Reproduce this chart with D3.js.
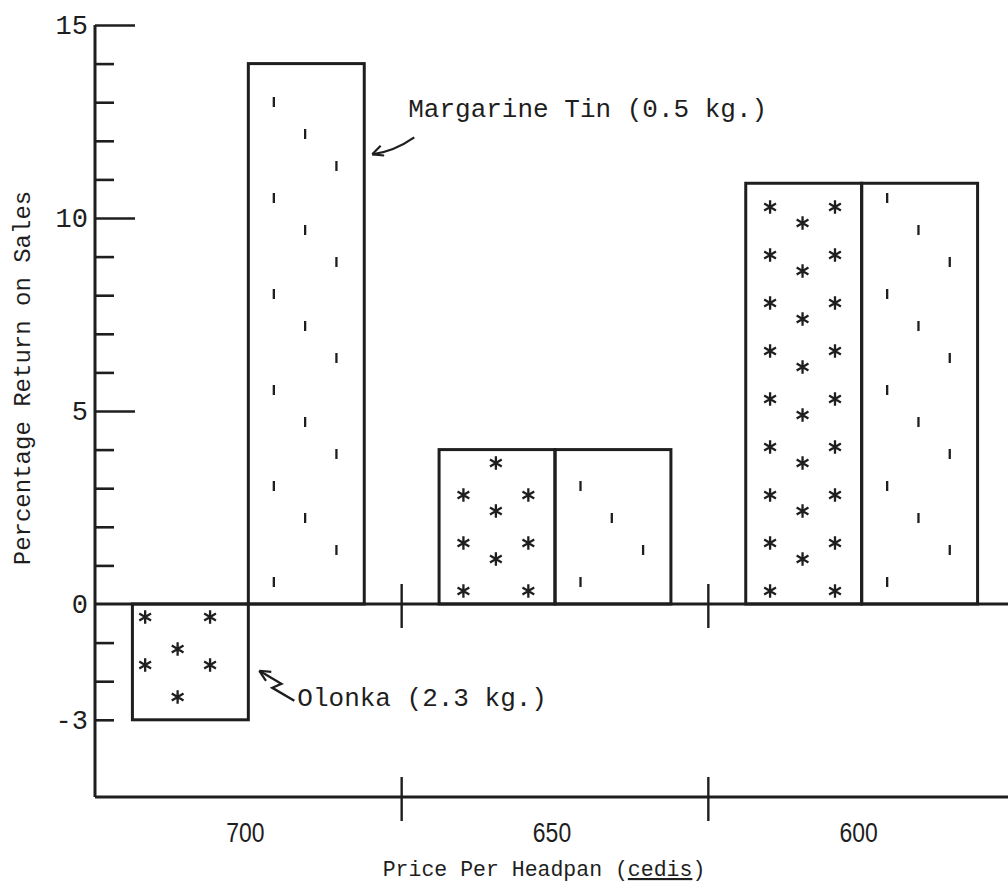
<!DOCTYPE html>
<html>
<head>
<meta charset="utf-8">
<script src="https://cdn.jsdelivr.net/npm/d3@7"></script>
<style>
  html, body { margin: 0; padding: 0; background: #fff; }
  svg { display: block; }
  .mono { font-family: "Liberation Mono", "DejaVu Sans Mono", monospace; fill: #1e1e1e; }
  .sans { font-family: "Liberation Sans", "DejaVu Sans", sans-serif; fill: #1e1e1e; }
</style>
</head>
<body>
<svg id="chart" width="1008" height="896"></svg>
<script>
// Price per headpan (cedis) and percentage return on sales for two measures
const categories = ["700", "650", "600"];
const seriesNames = ["Olonka (2.3 kg.)", "Margarine Tin (0.5 kg.)"];
const olonkaValues = [-3, 4, 10.9];
const margarineValues = [14, 4, 10.9];
const yTickLabels = [15, 10, 5, 0, -3];
const yMajorTicks = [15, 10, 5];
const yMinorTicks = [14, 13, 12, 11, 9, 8, 7, 6, 4, 3, 2, 1, -1, -2, -3];
const xTitle = "Price Per Headpan ";
const xTitleUnit = "cedis";
const yTitle = "Percentage Return on Sales";

const W = 1008, H = 896;
const ink = "#1e1e1e";
const svg = d3.select("#chart");

const axisX = 95;
const y = d3.scaleLinear().domain([-5, 15]).range([797, 25]);
const x0 = d3.scaleBand().domain(categories).range([axisX, 1015]).padding(0);
const step = x0.bandwidth();
const x1 = d3.scaleBand().domain(seriesNames).range([step * 0.122, step * 0.878]).padding(0);
const bw = x1.bandwidth();

const rows = categories.map((c, i) => [
  { cat: c, s: seriesNames[0], v: olonkaValues[i] },
  { cat: c, s: seriesNames[1], v: margarineValues[i] }
]).flat();

// ----- axes -----
// left vertical axis
svg.append("line")
  .attr("x1", axisX).attr("x2", axisX)
  .attr("y1", y(15)).attr("y2", y(-5))
  .attr("stroke", ink).attr("stroke-width", 3);

// inward tick marks on the vertical axis
const tickAxis = d3.axisRight(y)
  .tickValues(yMajorTicks.concat(yMinorTicks))
  .tickSize(18)
  .tickFormat("");
const tg = svg.append("g").attr("transform", `translate(${axisX},0)`).call(tickAxis);
tg.select(".domain").remove();
tg.selectAll(".tick line")
  .attr("stroke", ink).attr("stroke-width", 2.6)
  .attr("x2", d => yMajorTicks.includes(d) ? 40 : 19);

// tick labels to the left of the axis
const labelAxis = d3.axisLeft(y)
  .tickValues(yTickLabels)
  .tickSize(0)
  .tickPadding(7)
  .tickFormat(d => d < 0 ? "-" + (-d) : String(d));
const lg = svg.append("g").attr("transform", `translate(${axisX},0)`).call(labelAxis);
lg.select(".domain").remove();
lg.selectAll(".tick text")
  .attr("class", "mono")
  .attr("font-size", 27)
  .attr("fill", ink);

// zero line and bottom axis
svg.append("line")
  .attr("x1", axisX).attr("x2", W)
  .attr("y1", y(0)).attr("y2", y(0))
  .attr("stroke", ink).attr("stroke-width", 3);
svg.append("line")
  .attr("x1", axisX).attr("x2", W)
  .attr("y1", y(-5)).attr("y2", y(-5))
  .attr("stroke", ink).attr("stroke-width", 3);

// group dividers crossing the zero line and the bottom axis
const dividers = categories.slice(1).map(c => x0(c));
[0, -5].forEach(v => {
  svg.selectAll(null).data(dividers).enter().append("line")
    .attr("x1", d => d).attr("x2", d => d)
    .attr("y1", y(v) - 20).attr("y2", y(v) + 24)
    .attr("stroke", ink).attr("stroke-width", 2.4);
});

// category labels (narrowed sans)
svg.selectAll(null).data(categories).enter().append("text")
  .attr("class", "sans")
  .attr("transform", d => `translate(${x0(d) + step / 2 - 3},842) scale(0.85,1)`)
  .attr("text-anchor", "middle")
  .attr("font-size", 27)
  .text(d => d);

// axis titles
const xt = svg.append("text")
  .attr("class", "mono")
  .attr("x", 544).attr("y", 876)
  .attr("text-anchor", "middle")
  .attr("font-size", 21.5);
xt.append("tspan").text(xTitle + "(");
xt.append("tspan").style("text-decoration", "underline").text(xTitleUnit);
xt.append("tspan").text(")");

svg.append("text")
  .attr("class", "mono")
  .attr("transform", "translate(30,378) rotate(-90)")
  .attr("text-anchor", "middle")
  .attr("font-size", 24)
  .text(yTitle);

// ----- bars -----
const barG = svg.append("g");
rows.forEach(r => {
  const bx = x0(r.cat) + x1(r.s);
  const top = y(Math.max(0, r.v));
  const bot = y(Math.min(0, r.v));
  const h = bot - top;
  barG.append("rect")
    .attr("x", bx).attr("y", top)
    .attr("width", bw).attr("height", h)
    .attr("fill", "none")
    .attr("stroke", ink).attr("stroke-width", 3);

  const dir = r.v >= 0 ? -1 : 1;   // away from the zero line
  const base = y(0);
  if (r.s === seriesNames[0]) {
    // typed asterisks: pairs left/right, centre one offset between rows
    const shift = r.v < 0 ? -0.1 : 0;
    const star = (cx, cy) => {
      const rr = 6.8;
      let p = "";
      [90, 30, 150].forEach(a => {
        const t = a * Math.PI / 180;
        p += `M${cx - rr * Math.cos(t)},${cy - rr * Math.sin(t)}L${cx + rr * Math.cos(t)},${cy + rr * Math.sin(t)}`;
      });
      barG.append("path").attr("d", p).attr("stroke", ink).attr("stroke-width", 2.3).attr("fill", "none");
    };
    for (let d = 13; d <= h - 10; d += 48) {
      star(bx + bw * (0.21 + shift), base + dir * d);
      star(bx + bw * (0.77 + shift), base + dir * d);
    }
    for (let d = 45; d <= h - 10; d += 48) {
      star(bx + bw * (0.49 + shift), base + dir * d);
    }
  } else {
    // short typed vertical strokes stepping across three columns
    const cols = [0.22, 0.76, 0.49];
    let k = 0;
    for (let d = 22; d <= h - 10; d += 32, k++) {
      const cx = bx + bw * cols[k % 3];
      const cy = base + dir * d;
      barG.append("line")
        .attr("x1", cx).attr("x2", cx)
        .attr("y1", cy - 5).attr("y2", cy + 5)
        .attr("stroke", ink).attr("stroke-width", 2.3);
    }
  }
});

// ----- annotations -----
const arrowHead = (tx, ty, ang) => {
  const len = 12;
  [ang - 0.45, ang + 0.45].forEach(a => {
    svg.append("line")
      .attr("x1", tx).attr("y1", ty)
      .attr("x2", tx + len * Math.cos(a)).attr("y2", ty + len * Math.sin(a))
      .attr("stroke", ink).attr("stroke-width", 2.2);
  });
};

// Margarine Tin label, arrow to the right edge of its 700 bar
const mRight = x0("700") + x1(seriesNames[1]) + bw;
const mtx = mRight + 8, mty = y(11.65);
svg.append("path")
  .attr("d", `M${mtx + 42},${mty - 17} Q${mtx + 22},${mty - 3} ${mtx},${mty}`)
  .attr("fill", "none").attr("stroke", ink).attr("stroke-width", 2.2);
arrowHead(mtx, mty, Math.atan2(-8, 22));
svg.append("text")
  .attr("class", "mono")
  .attr("x", mRight + 44).attr("y", 117)
  .attr("font-size", 26)
  .text(seriesNames[1]);

// Olonka label, zig-zag arrow to the right edge of its 700 bar
const oRight = x0("700") + x1(seriesNames[0]) + bw;
const otx = oRight + 11, oty = y(-1.73);
svg.append("path")
  .attr("d", `M${otx + 35},${oty + 30} L${otx + 13},${oty + 17} L${otx + 22},${oty + 13} L${otx},${oty}`)
  .attr("fill", "none").attr("stroke", ink).attr("stroke-width", 2.4).attr("stroke-linejoin", "miter");
arrowHead(otx, oty, Math.atan2(13, 22));
svg.append("text")
  .attr("class", "mono")
  .attr("x", oRight + 49).attr("y", 706)
  .attr("font-size", 26)
  .text(seriesNames[0]);
</script>
</body>
</html>
